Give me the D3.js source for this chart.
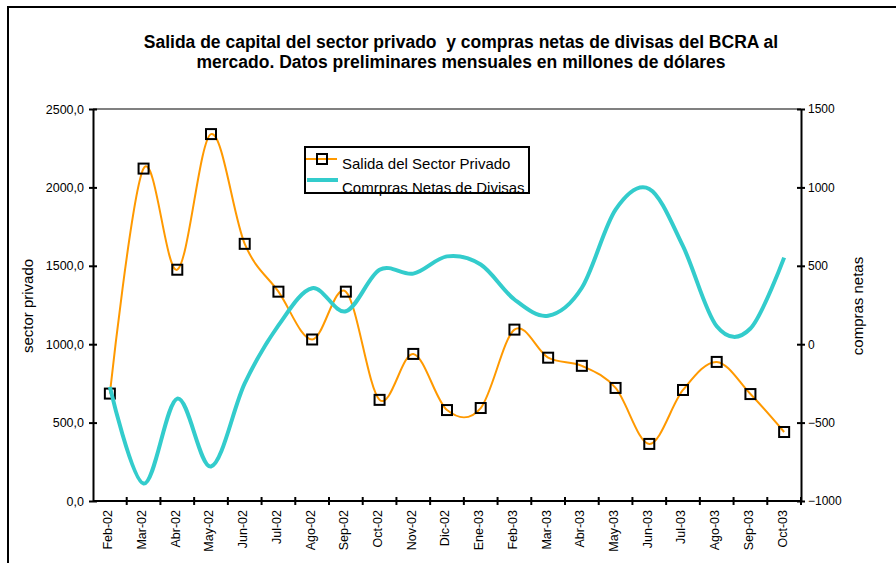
<!DOCTYPE html>
<html>
<head>
<meta charset="utf-8">
<script src="https://cdn.jsdelivr.net/npm/d3@7.9.0/dist/d3.min.js"></script>
<style>
  body { margin: 0; background: #fff; }
  svg { display: block; font-family: Arial, 'Liberation Sans', sans-serif; }
</style>
</head>
<body>
<svg id="chart"></svg>
<script>
const months = ['Feb-02', 'Mar-02', 'Abr-02', 'May-02', 'Jun-02', 'Jul-02', 'Ago-02', 'Sep-02',
  'Oct-02', 'Nov-02', 'Dic-02', 'Ene-03', 'Feb-03', 'Mar-03', 'Abr-03', 'May-03', 'Jun-03',
  'Jul-03', 'Ago-03', 'Sep-03', 'Oct-03'];

// salida de capital del sector privado (eje izquierdo)
const salida = [685, 2120, 1475, 2340, 1640, 1335, 1030, 1335, 645, 938, 580, 593, 1093,
  914, 862, 721, 364, 708, 887, 682, 440];

// compras netas de divisas (eje derecho)
const compras = [-272, -889, -347, -780, -250, 120, 357, 210, 475, 450, 560, 508, 285,
  182, 360, 858, 990, 625, 114, 100, 552];

const leftTicks = [0, 500, 1000, 1500, 2000, 2500];
const rightTicks = [-1000, -500, 0, 500, 1000, 1500];

const title1 = 'Salida de capital del sector privado  y compras netas de divisas del BCRA al';
const title2 = 'mercado. Datos preliminares mensuales en millones de dólares';
const seriesNames = ['Salida del Sector Privado', 'Comrpras Netas de Divisas'];

const width = 896;
const height = 563;
const margin = { top: 109, right: 95, bottom: 62, left: 93 };

const svg = d3.select('#chart')
  .attr('width', width)
  .attr('height', height);

// outer frame (only top and left visible)
svg.append('rect')
  .attr('x', 8).attr('y', 7)
  .attr('width', 920).attr('height', 600)
  .attr('fill', 'none')
  .attr('stroke', '#000')
  .attr('stroke-width', 2);

const x = d3.scaleBand()
  .domain(months)
  .range([margin.left, width - margin.right]);

const yLeft = d3.scaleLinear()
  .domain([0, 2500])
  .range([height - margin.bottom, margin.top]);

const yRight = d3.scaleLinear()
  .domain([-1000, 1500])
  .range([height - margin.bottom, margin.top]);

const cx = d => x(d) + x.bandwidth() / 2;

// top grey line
svg.append('line')
  .attr('x1', margin.left).attr('x2', width - margin.right)
  .attr('y1', yLeft(2500)).attr('y2', yLeft(2500))
  .attr('stroke', '#808080')
  .attr('stroke-width', 2);

// title
const title = svg.append('text')
  .attr('text-anchor', 'middle')
  .attr('font-weight', 'bold')
  .attr('font-size', 17.5)
  .style('white-space', 'pre')
  .attr('fill', '#000');
title.append('tspan').attr('x', 461).attr('y', 48).text(title1);
title.append('tspan').attr('x', 461).attr('y', 68).text(title2);

function crossTicks(g) {
  g.selectAll('.tick line')
    .attr('x1', -4)
    .attr('x2', 4)
    .attr('stroke', '#000')
    .attr('stroke-width', 2);
  g.select('.domain').attr('stroke', '#000').attr('stroke-width', 2);
}

// left axis
const commaFmt = d => d3.format('.1f')(d).replace('.', ',');
const gLeft = svg.append('g')
  .attr('transform', `translate(${margin.left}, 0)`)
  .call(d3.axisLeft(yLeft).tickValues(leftTicks).tickFormat(commaFmt).tickSizeOuter(0));
crossTicks(gLeft);
gLeft.selectAll('.tick text')
  .attr('x', -9)
  .attr('font-size', 12.5)
  .attr('font-family', null)
  .attr('fill', '#000');

// right axis
const gRight = svg.append('g')
  .attr('transform', `translate(${width - margin.right}, 0)`)
  .call(d3.axisRight(yRight).tickValues(rightTicks).tickFormat(d3.format('d')).tickSizeOuter(0));
crossTicks(gRight);
gRight.selectAll('.tick text')
  .attr('x', 7)
  .attr('font-size', 12)
  .attr('font-family', null)
  .attr('fill', '#000');

// bottom axis, ticks on band edges
const gBottom = svg.append('g')
  .attr('transform', `translate(0, ${height - margin.bottom})`);
gBottom.append('line')
  .attr('x1', margin.left).attr('x2', width - margin.right)
  .attr('stroke', '#000').attr('stroke-width', 2);
gBottom.selectAll('.edge')
  .data(months)
  .join('line')
  .attr('class', 'edge')
  .attr('x1', d => x(d) + x.bandwidth())
  .attr('x2', d => x(d) + x.bandwidth())
  .attr('y1', -4).attr('y2', 4)
  .attr('stroke', '#000').attr('stroke-width', 2);
gBottom.selectAll('.lbl')
  .data(months)
  .join('text')
  .attr('class', 'lbl')
  .attr('transform', d => `translate(${cx(d) - 2}, 9) rotate(-90)`)
  .attr('text-anchor', 'end')
  .attr('dy', '0.35em')
  .attr('font-size', 12.5)
  .attr('fill', '#000')
  .text(d => d);

// axis titles
svg.append('text')
  .attr('transform', 'translate(33, 306) rotate(-90)')
  .attr('text-anchor', 'middle')
  .attr('font-size', 15)
  .text('sector privado');
svg.append('text')
  .attr('transform', 'translate(863, 306) rotate(-90)')
  .attr('text-anchor', 'middle')
  .attr('font-size', 15)
  .text('compras netas');

// orange series
const lineLeft = d3.line()
  .x((d, i) => cx(months[i]))
  .y(d => yLeft(d))
  .curve(d3.curveCatmullRom.alpha(0));

svg.append('path')
  .datum(salida)
  .attr('fill', 'none')
  .attr('stroke', '#FF9900')
  .attr('stroke-width', 2)
  .attr('d', lineLeft);

svg.selectAll('.mark')
  .data(salida)
  .join('rect')
  .attr('class', 'mark')
  .attr('x', (d, i) => cx(months[i]) - 5)
  .attr('y', d => yLeft(d) - 5)
  .attr('width', 10).attr('height', 10)
  .attr('fill', 'none')
  .attr('stroke', '#000')
  .attr('stroke-width', 2);

// cyan series
const lineRight = d3.line()
  .x((d, i) => cx(months[i]))
  .y(d => yRight(d))
  .curve(d3.curveCatmullRom.alpha(0));

svg.append('path')
  .datum(compras)
  .attr('fill', 'none')
  .attr('stroke', '#33CCCC')
  .attr('stroke-width', 4)
  .attr('d', lineRight);

// legend
const lg = svg.append('g');
lg.append('rect')
  .attr('x', 305).attr('y', 147)
  .attr('width', 224).attr('height', 46)
  .attr('fill', '#fff');
lg.append('line')
  .attr('x1', 305).attr('x2', 337).attr('y1', 159).attr('y2', 159)
  .attr('stroke', '#FF9900').attr('stroke-width', 2);
lg.append('rect')
  .attr('x', 317).attr('y', 154).attr('width', 10).attr('height', 10)
  .attr('fill', 'none').attr('stroke', '#000').attr('stroke-width', 2);
lg.append('text')
  .attr('x', 342).attr('y', 169)
  .attr('font-size', 15)
  .text(seriesNames[0]);
lg.append('line')
  .attr('x1', 307).attr('x2', 338).attr('y1', 180).attr('y2', 180)
  .attr('stroke', '#33CCCC').attr('stroke-width', 4);
lg.append('text')
  .attr('x', 342).attr('y', 193)
  .attr('font-size', 15)
  .text(seriesNames[1]);
lg.append('rect')
  .attr('x', 305).attr('y', 147)
  .attr('width', 224).attr('height', 46)
  .attr('fill', 'none')
  .attr('stroke', '#000').attr('stroke-width', 2);
</script>
</body>
</html>
